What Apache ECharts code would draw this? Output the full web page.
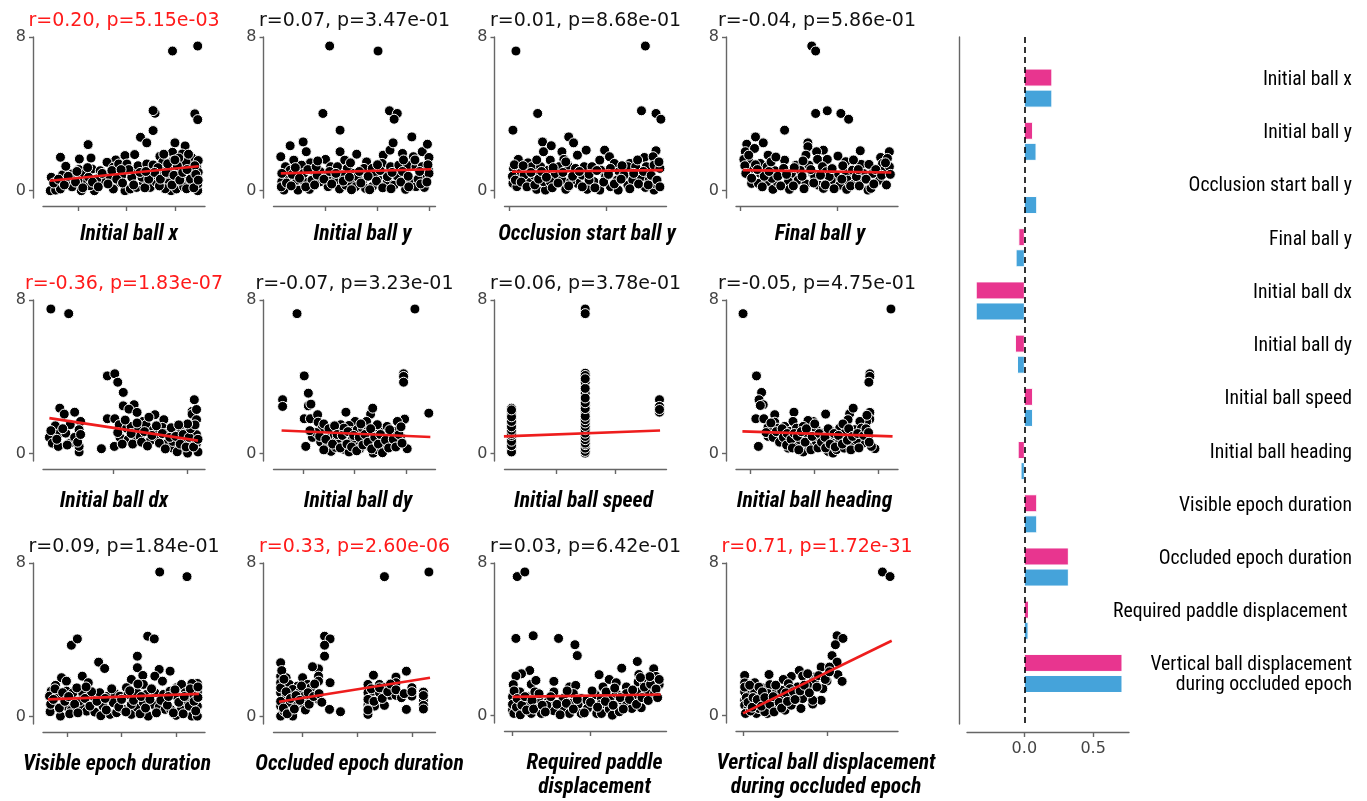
<!DOCTYPE html>
<html><head><meta charset="utf-8">
<script src="https://cdn.jsdelivr.net/npm/echarts@6/dist/echarts.min.js"></script>
<style>html,body{margin:0;padding:0;background:#fff}#c{width:1367px;height:801px}</style>
</head><body><div id="c"></div>
<script>
// ---------- DATA ----------
const panelLabels = ['Initial ball x','Initial ball y','Occlusion start ball y','Final ball y',
  'Initial ball dx','Initial ball dy','Initial ball speed','Initial ball heading',
  'Visible epoch duration','Occluded epoch duration','Required paddle\ndisplacement','Vertical ball displacement\nduring occluded epoch'];
const rValues = ['0.20','0.07','0.01','-0.04','-0.36','-0.07','0.06','-0.05','0.09','0.33','0.03','0.71'];
const pValues = ['5.15e-03','3.47e-01','8.68e-01','5.86e-01','1.83e-07','3.23e-01','3.78e-01','4.75e-01','1.84e-01','2.60e-06','6.42e-01','1.72e-31'];
const yTickValues = [0, 8];
const xRanges = [[2.8,36.2],[0,31.15],[-0.52,16.18],[-0.41,16.29],[-4.73,6.17],[-15.77,15.7],[0.11,2.88],[-24.4,26.2],[0.56,3.53],[0.47,3.42],[-1.03,19.74],[-0.83,18.45]];
const xTickValues = [[10,20,30],[10,20,30],[0,10],[0,10],[0,5],[-10,0,10],[1,2],[-20,0,20],[1,2,3],[1,2,3],[0,10],[0,10]];

const ptsInitialBallX = [[29.5,7.27],[34.7,7.53],[25.9,4.03],[25.5,4.17],[34.1,4.0],[34.7,3.7],[25.5,3.13],[22.9,2.78],[24.2,2.49],[12.1,2.4],[30,2.49],[32.1,2.33],[6.4,1.74],[10.3,1.65],[12.7,1.7],[17.8,1.6],[19.7,1.83],[21.7,1.88],[26.9,1.79],[29.5,2.0],[31.5,1.91],[33.4,1.74],
[4.5,0.7],[6.8,0.82],[7.5,1.27],[8.8,0.87],[10.2,1.1],[11.3,0.87],[12.9,1.13],[14.6,1.04],[16,1.48],[17.3,1.22],[18.4,1.39],[20.1,1.39],[21.4,1.04],[22.4,1.3],[24.2,1.39],[25.5,1.34],[28.3,1.22],[29.6,1.57],[31,1.22],[32.3,1.48],[34.5,1.22],[34.8,1.57],[34.8,0.96],
[4.3,0],[5.4,0.03],[6.4,0.09],[8.8,0.2],[10.7,0],[11.2,0.38],[13.4,0],[12.5,0.26],[15.3,0.52],[17.3,0.09],[18.7,0.43],[19.7,0],[20.8,0.09],[22.1,0.17],[23.5,0.43],[24.9,0.17],[26.2,0.43],[27.9,0.09],[29.2,0],[30.3,0.09],[31.3,0.43],[32.7,0.26],[34.7,0],[34.7,0.35],[33.8,0.7],[32.1,0.7],[28.6,0.7],[27.3,0.87],[25.2,0.78],[23.2,0.7],[21.1,0.7],[19.0,0.78],[16.6,0.78],[13.9,0.61],[12.2,0.7],[10,0.52],[7.7,0.52],[29,1.04],[30.3,0.87],[33,1.04],[34.1,1.3],[33.4,0.43],[27.5,1.5],[28.8,0.4],[30.8,1.7],[32.8,1.9],[31.8,0.2],[26.5,1.2],[28,0.1],
[5,0.4],[6,0.6],[7.2,0.3],[8,0.75],[9.5,0.45],[9.8,1.0],[11,0.15],[12,1.2],[13,0.45],[14.2,0.2],[15,0.9],[16.2,0.35],[17,1.05],[18,0.6],[19.2,0.4],[20.5,1.1],[21.5,0.3],[22.8,0.95],[23.8,0.15],[24.6,0.6],[25.8,0.95],[26.8,0.25],[27,0.6],[28.2,0.95],[28.5,1.4],[29.4,0.3],[29.8,0.8],[30.5,1.3],[31,0.55],[31.6,0.95],[32.4,0.1],[32.5,1.1],[33.2,0.6],[33.9,0.15],[34.3,0.85],[34.8,0.55],[27.7,1.9],[30,1.6],[24,1.0],[18.9,1.1]];
const ptsInitialBallY = [[10.8,7.53],[20.1,7.27],[9.5,4.02],[22.3,4.16],[23.8,4.02],[23.2,3.72],[12.8,3.15],[5.7,2.54],[3.2,2.34],[1.4,1.77],[6.3,2.03],[7.1,1.45],[10,1.63],[12.8,2.03],[13.7,1.59],[16,1.9],[17.9,1.5],[21.1,1.85],[22.4,2.11],[23,2.49],[24.8,1.94],[26.6,2.8],[26.9,1.77],[28.6,2.03],[29.6,2.42],[29.9,1.73],
[2.3,1.25],[3.9,1.59],[5.4,1.33],[7.4,1.07],[9,0.99],[11,1.25],[12.3,1.25],[14.2,1.16],[15.5,0.9],[17.4,1.16],[19,1.16],[20.9,1.42],[22.5,1.25],[24.1,1.33],[25.8,1.33],[27.4,1.25],[28.6,1.25],[29.8,1.07],
[2,0.03],[1.6,0.47],[2.9,0.73],[4.7,0.03],[4.5,0.55],[5.9,0.47],[6.9,0.07],[7.4,0.55],[9,0.47],[10.5,0.21],[11.9,0.55],[12.7,0.09],[13.9,0.29],[15,0.38],[15.8,0.21],[17.1,0.47],[17.7,0.12],[19,0.21],[20.3,0.55],[21.4,0.21],[21.9,0.55],[23.2,0.29],[23.8,0.76],[25.4,0.07],[26.4,0.47],[27.4,0.21],[29,0.17],[29,0.73],[29.9,0.9],[21.9,0.73],[19.3,0.81],[16.1,0.73],[13.2,0.81],[10.3,0.73],[8.4,0.81],[5.8,0.9],[3.2,1.07],[1.6,0.9],
[1.5,0.2],[2.5,0.4],[3.4,0.25],[3.6,0.85],[4.2,1.2],[5,0.65],[6.2,0.2],[6.6,1.1],[7.9,0.3],[8.2,1.25],[9.7,0.6],[10.8,1.0],[11.2,0.35],[12,0.9],[13.4,0.5],[14.6,0.7],[15,0.05],[16.5,1.0],[16.8,0.4],[18.2,0.75],[18.5,0.05],[19.8,0.5],[20.5,1.05],[21,0.15],[22.8,0.95],[22.6,0.1],[24.5,0.45],[24.8,1.0],[25.9,0.75],[26,0.2],[27.8,0.6],[28.1,1.0],[28.3,0.35],[29.5,0.45],[29.7,1.35],[27.2,1.6],[20,1.35],[14.8,1.45],[8.5,1.55],[25,1.6]];
const ptsOcclusionStartY = [[0.66,7.27],[14.0,7.53],[0.35,3.15],[2.9,4.02],[13.6,4.16],[15.1,4.02],[15.6,3.72],[6.1,2.8],[6.6,2.49],[3.4,2.54],[4.3,2.34],[3.5,2.03],[5.4,2.03],[7.9,2.11],[9.8,2.11],[7,1.85],[5.6,1.63],[10.3,1.77],[15.1,2.08],[13.9,1.73],[4.2,1.59],[0.9,1.63],[1.9,1.45],[9.3,1.59],[10.8,1.42],[12.4,1.42],[14.8,1.77],
[0.4,1.16],[1.1,0.9],[2.3,1.25],[3.2,1.25],[4,1.07],[5.1,1.25],[6,1.33],[6.8,1.16],[7.7,1.25],[8.5,1.25],[9.4,1.07],[10.4,1.16],[11.3,0.99],[12.2,1.25],[13,1.25],[14.1,1.25],[14.9,1.33],[15.5,1.16],
[0.35,0.38],[0.76,0.21],[2.8,0.07],[3.7,0.03],[3.5,0.47],[4.7,0.81],[5.4,0.55],[5.8,0.07],[7,0.38],[7.5,0.81],[8,0.07],[8.7,0.47],[9.3,0.03],[9.9,0.73],[10.4,0.21],[11.2,0.03],[12.2,0.29],[12.7,0.55],[13.6,0.73],[14,0.17],[14.9,0.03],[14.9,0.38],[2,0.55],[2.5,0.81],[4.2,0.47],[6.3,0.47],[8.2,0.55],[11.1,0.55],[11.8,0.81],[14.4,0.55],[1.5,0.81],
[0.3,0.75],[0.5,1.35],[0.6,0.55],[1.2,0.45],[1.4,1.3],[1.8,0.2],[2.2,0.95],[2.6,0.3],[3,0.6],[3.3,1.0],[3.8,0.7],[4.4,0.15],[4.5,1.2],[5,0.4],[5.5,0.95],[6.1,0.25],[6.5,0.75],[7.2,1.0],[7.5,0.2],[8.2,0.85],[8.8,0.15],[9,1.05],[9.7,0.45],[10.2,0.85],[10.8,0.35],[11.5,0.6],[11.6,1.3],[12.4,0.1],[12.8,0.9],[13.3,0.35],[13.8,1.0],[14.3,0.3],[14.6,0.8],[15.2,0.55],[15.5,0.2],[15.4,1.5],[13.2,1.6],[5.8,1.5],[2.8,1.6]];
const ptsFinalBallY = [[7.4,7.53],[7.8,7.27],[7.8,4.02],[9,4.16],[10.4,4.02],[11.2,3.72],[4.6,3.15],[1.6,2.8],[2.4,2.49],[0.7,2.42],[0.55,2.03],[1.5,2.2],[7,2.49],[7,2.29],[8.6,2.11],[7.9,2.03],[12.4,2.08],[15.4,2.03],[2.9,1.85],[6.8,1.85],[10.1,1.8],[14.5,1.73],[0.4,1.63],[1.1,1.42],[2.1,1.42],[4.6,1.59],[5.8,1.33],[7.1,1.33],[8,1.63],[9,1.63],[8.5,1.25],[10.9,1.51],[12.5,1.37],[13.3,1.37],[14.7,1.42],[15.2,1.68],
[1.4,1.16],[2.1,0.9],[2.8,1.25],[3.6,1.04],[4.5,1.16],[5.3,0.9],[6.2,1.07],[7.5,0.9],[8.9,0.99],[9.9,0.76],[11,0.9],[11.6,1.07],[12.7,0.9],[13.7,0.9],[14.9,1.07],[15.4,1.25],
[1.2,0.38],[1.9,0.38],[2.8,0.47],[3.4,0.07],[3.8,0.47],[5,0.47],[5.1,0.07],[6,0.55],[6.8,0.35],[7.7,0.73],[8.1,0.29],[8.6,0.12],[9.4,0.55],[10.3,0.29],[11,0.07],[11.1,0.55],[11.8,0.38],[12.6,0.55],[13.2,0.03],[13.5,0.12],[14.4,0.55],[12,0.73],[3.3,0.64],[9.2,0.73],
[0.5,1.3],[0.6,0.9],[0.9,1.85],[1.2,0.65],[1.6,1.35],[1.8,1.1],[2.3,0.2],[2.5,0.75],[3,1.0],[3.2,1.5],[3.9,0.75],[4.2,0.25],[4.8,0.85],[5.5,0.25],[5.6,1.2],[6.4,0.75],[6.6,0.1],[7.3,1.1],[7.6,0.4],[8.3,0.8],[8.8,0.3],[9.5,1.15],[9.7,0.1],[10.5,0.6],[10.6,1.3],[11.4,0.25],[12.2,1.1],[12.3,0.25],[13,0.6],[13.8,0.35],[14,1.1],[14.6,0.8],[15.1,0.3],[15.5,0.85],[15,1.45],[6.5,1.55],[3.7,1.75],[11.7,1.6]];
const ptsInitialBallDx = [[-4.2,7.53],[-3.0,7.29],[-0.4,4.05],[0.1,4.16],[0.3,3.72],[0.67,3.19],[0.67,2.49],[1.4,2.55],[1.05,2.32],[-3.6,2.37],[-3.3,2.06],[-2.6,2.16],[-2.2,1.68],[-0.4,1.82],[0.1,1.82],[1.6,2.15],[2,1.68],[2.8,2.03],[3.4,1.77],[5.45,2.81],[5.3,2.2],[5.3,2.06],[5.6,1.77],[4.3,1.33],
[-4.3,0.85],[-3.9,1.45],[-3.6,1.07],[-3.2,1.07],[-2.9,1.51],[-2.3,1.25],[0.4,1.51],[0.9,1.33],[1.2,1.42],[1.7,1.25],[2.2,1.51],[2.7,1.25],[3.3,1.37],[3.6,1.07],[4,1.16],[4.6,1.25],[4.9,1.07],[5.4,1.16],[5.6,0.99],
[-4.1,0.55],[-3.7,0.38],[-2.9,0.55],[-2.3,0.09],[-2.3,0.38],[-0.8,0.26],[0.07,0.38],[0.45,0.85],[1,0.73],[1.4,0.85],[1.8,0.9],[2.5,0.68],[3,0.81],[3.6,0.52],[4,0.29],[4.4,0.55],[4.7,0.21],[5,0.03],[5.3,0.64],[5.7,0.09],[5.6,0.55],[4.8,0.73],[4,0.64],
[-4.2,1.2],[-3.8,0.75],[-3.4,1.3],[-3.1,0.45],[-2.6,0.85],[-2.4,0.6],[-2.2,1.0],[0.3,1.1],[0.6,0.5],[0.8,1.75],[1.2,1.05],[1.3,0.5],[1.6,1.6],[1.9,0.6],[2.1,1.15],[2.3,0.4],[2.6,0.95],[2.9,1.45],[3.1,0.55],[3.3,1.05],[3.5,0.25],[3.8,0.85],[3.9,1.35],[4.2,0.9],[4.3,0.1],[4.5,0.5],[4.7,1.0],[4.9,0.35],[5.1,0.85],[5.2,1.3],[5.4,0.35],[5.5,1.5],[5.7,0.75],[5.6,2.3],[5.0,1.55],[4.4,1.5],[2.4,1.9]];
const ptsInitialBallDy = [[-11.2,7.29],[11.7,7.53],[-14,2.81],[-14,2.46],[-9.8,4.05],[-9,3.15],[-9,2.49],[-8.5,2.58],[-9.8,1.82],[-8.6,1.82],[-7.2,2.03],[-7.1,1.64],[9.5,4.16],[9.5,4.02],[9.5,3.72],[14.4,2.11],[9.7,1.8],[-1.7,2.16],[3.1,2.06],[3.5,2.37],[2.3,1.68],[0.1,1.68],[8.3,1.68],[-2.7,1.51],[-1.1,1.47],
[-8.2,0.85],[-6.3,1.33],[-4.6,1.16],[-4,0.9],[-3,1.16],[-2.1,1.33],[-0.8,1.16],[0.5,1.25],[1.5,1.33],[2.5,1.16],[3.7,1.07],[4.7,1.33],[5.7,1.16],[7,1.07],[7.9,1.16],[8.9,0.9],[6.3,1.42],[4.4,1.51],
[-9.5,0.38],[-6.6,0.61],[-5.3,0.42],[-4.6,0.12],[-3.7,0.33],[-2.6,0.61],[-1.9,0.21],[-1.1,0.09],[0.2,0.47],[1,0.26],[1.9,0.64],[2.8,0.38],[3.6,0.03],[4.4,0.21],[5,0.47],[5.7,0.26],[7,0.55],[10.2,0.26],[-3.4,0.73],[-0.5,0.73],[4.1,0.73],[8.3,0.64],
[-7.5,1.1],[-6.8,0.9],[-6,1.55],[-5.6,0.75],[-5,1.3],[-4.3,0.5],[-3.9,1.45],[-3.4,1.0],[-2.8,0.3],[-2.4,0.95],[-1.5,0.5],[-1.3,1.15],[-0.6,0.35],[-0.2,0.95],[0.4,0.15],[0.9,0.85],[1.2,1.55],[1.6,0.45],[2,1.0],[2.6,0.6],[3.1,1.3],[3.3,0.25],[3.9,0.85],[4.6,0.5],[5,1.0],[5.4,0.05],[6,0.7],[6.6,0.3],[6.8,1.25],[7.5,0.75],[8,0.35],[8.6,1.0],[9,1.4],[9.2,0.55],[-8.7,1.2],[-6,0.2]];
const ptsInitialBallSpeed = [[0.23,2.37],[0.23,2.2],[0.23,2.06],[0.23,1.77],[0.23,1.59],[0.23,1.47],[0.23,1.33],[0.23,1.13],[0.23,0.85],[0.23,0.73],[0.23,0.55],[0.23,0.29],[0.23,0.16],[0.23,0.09],
[0.23,0.42],[0.23,0.65],[0.23,0.95],[0.23,1.05],[0.23,1.22],[0.23,1.4],[0.23,1.68],[0.23,1.92],[0.23,2.28],
[1.49,7.53],[1.49,7.29],[1.49,4.19],[1.49,4.07],[1.49,3.72],[1.49,3.15],[1.49,2.51],[1.49,2.2],[1.49,2.06],[1.49,1.85],[1.49,1.68],[1.49,1.51],[1.49,1.33],[1.49,1.16],[1.49,0.99],[1.49,0.81],[1.49,0.64],[1.49,0.38],[1.49,0.21],[1.49,0.03],
[1.49,0.12],[1.49,0.29],[1.49,0.47],[1.49,0.55],[1.49,0.73],[1.49,0.9],[1.49,1.07],[1.49,1.25],[1.49,1.42],[1.49,1.6],[1.49,1.77],[1.49,1.95],[1.49,2.35],[1.49,2.65],[1.49,2.9],[1.49,3.4],[1.49,3.9],
[2.76,2.81],[2.76,2.46],[2.76,2.16],[2.76,2.3]];
const ptsInitialBallHeading = [[-22.2,7.29],[24,7.53],[-18,4.05],[-16.4,3.19],[-17.2,2.81],[-15.9,2.55],[-16.8,2.51],[-18.2,1.82],[-15.7,1.82],[-12.3,2.03],[-12.3,1.64],[-14.4,1.37],[-14.4,0.9],[-17.4,0.38],[-6.3,2.16],[3.6,2.06],[-0.3,1.68],[-1.9,1.73],[-6.6,1.68],[11.1,2.08],[12.2,2.37],[10.6,1.77],[17.4,4.16],[17.4,4.02],[17.1,3.72],[17.4,2.15],[17.4,1.8],[16.4,1.68],[14.3,1.68],[19,0.26],
[-11.3,1.33],[-9.2,1.42],[-7.6,1.16],[-5.5,1.33],[-3.4,1.42],[0.7,1.25],[2.8,1.07],[5.4,1.16],[8,1.33],[9.6,1.07],[12.7,1.25],[14.8,1.33],[16.9,0.9],[-10.2,0.99],[-1.9,0.99],[6.5,0.9],
[-9.2,0.55],[-8.1,0.29],[-6,0.47],[-3.4,0.09],[-1.4,0.33],[0.7,0.64],[2.8,0.33],[4.4,0.12],[5.9,0.03],[7,0.21],[9.4,0.29],[12.2,0.42],[15.3,0.55],[17.9,0.38],[-4.5,0.73],[1.8,0.78],[8,0.64],[13.2,0.73],
[-15,1.1],[-13.5,1.6],[-12.8,0.85],[-11.8,1.15],[-10.8,0.6],[-10,1.3],[-9.6,0.85],[-8.6,0.45],[-8.4,1.05],[-7.2,0.75],[-6.8,0.3],[-6.2,1.05],[-5.2,0.9],[-4.8,0.2],[-4,1.15],[-2.8,0.6],[-2.4,1.3],[-1,0.2],[-0.6,0.9],[0.2,1.55],[1.2,0.3],[1.6,1.05],[2.3,0.6],[3.4,0.85],[3.6,0.3],[4.4,1.3],[5,0.5],[6.2,1.05],[6.6,0.35],[7.6,0.95],[8.8,0.5],[9,1.55],[10.4,0.7],[10.8,1.3],[11.5,0.2],[12,0.9],[13.6,1.05],[14,0.3],[15.5,0.95],[16.2,1.3],[17,1.1],[17.2,0.6],[16.5,2.0]];
const ptsVisibleDuration = [[2.7,7.53],[3.2,7.29],[1.08,3.72],[1.19,4.05],[2.48,4.19],[2.6,4.05],[1.58,2.84],[1.69,2.51],[2.29,3.15],[2.29,2.55],[2.89,2.37],[2.69,2.46],[1.28,2.11],[2.39,2.15],[2.61,2.11],[2.18,1.94],[1.39,1.77],[0.9,2.03],[0.99,1.85],[0.79,1.63],[0.71,1.33],[2.09,1.51],[2.4,1.68],[3.01,1.51],[3.1,1.68],[3.39,1.73],[3.29,1.73],
[0.68,1.07],[0.83,1.16],[0.99,1.33],[1.11,1.25],[1.29,1.21],[1.48,1.07],[1.6,1.25],[1.75,1.07],[1.88,1.21],[1.97,1.07],[2.12,1.16],[2.28,1.25],[2.46,1.16],[2.61,1.25],[2.77,1.16],[2.89,1.33],[3.01,1.07],[3.17,1.25],[3.32,1.07],[3.39,1.28],
[0.69,0.26],[0.88,0.03],[0.99,0.55],[1.08,0.35],[1.26,0.47],[1.36,0.29],[1.51,0.24],[1.66,0.55],[1.79,0.12],[1.91,0.21],[2.03,0.38],[2.18,0.12],[2.29,0.47],[2.49,0.03],[2.58,0.64],[2.69,0.5],[2.8,0.38],[2.9,0.38],[3,0.07],[3.1,0.42],[3.2,0.76],[3.29,0.03],[3.39,0.55],[3.39,0.03],[2.18,0.64],[1.85,0.73],[1.23,0.81],[2.4,0.73],
[0.7,0.65],[0.75,0.9],[0.78,1.45],[0.86,0.45],[0.92,1.25],[0.96,0.8],[1.03,1.05],[1.05,0.15],[1.14,0.65],[1.18,1.5],[1.2,0.2],[1.33,0.95],[1.42,0.55],[1.45,1.3],[1.55,0.8],[1.62,0.05],[1.7,0.95],[1.72,0.35],[1.82,1.45],[1.95,0.5],[2.0,0.9],[2.08,0.25],[2.15,1.35],[2.22,0.85],[2.34,0.15],[2.36,1.05],[2.44,0.45],[2.52,0.9],[2.55,1.45],[2.64,0.2],[2.72,0.85],[2.75,1.85],[2.84,0.6],[2.86,1.05],[2.95,0.2],[2.98,1.4],[3.05,0.75],[3.13,0.15],[3.15,1.05],[3.24,0.55],[3.26,1.45],[3.33,0.8],[3.36,0.3],[3.4,1.0],[3.4,1.55],[2.3,1.7],[1.35,1.55]];
const ptsOccludedDuration = [[2.49,7.29],[3.3,7.53],[1.4,4.19],[1.5,4.05],[1.4,3.72],[1.4,3.15],[0.6,2.81],[1.29,2.49],[1.18,2.6],[0.6,2.11],[0.7,2.03],[1,2.03],[1.29,2.11],[1.5,1.77],[2.29,2.16],[2.7,2.06],[2.89,2.37],[0.6,1.77],[0.76,1.68],[0.91,1.59],[1.09,1.68],[1.15,1.51],[1.29,1.85],[2.19,1.68],[2.4,1.68],[2.7,1.77],[2.99,1.51],
[0.6,1.25],[0.7,1.07],[0.82,1.42],[0.94,1.25],[1.03,1.07],[1.15,0.9],[1.29,0.9],[2.19,1.25],[2.28,1.33],[2.4,1.25],[2.49,1.51],[2.59,1.11],[2.7,1.11],[2.8,0.99],[2.99,1.07],[3.2,1.28],[3.2,0.87],
[0.6,0.55],[0.6,0.03],[0.66,0.29],[0.76,0.73],[0.8,0.24],[0.82,0.03],[0.91,0.64],[1.49,0.38],[1.69,0.26],[2.19,0.61],[2.19,0.12],[2.21,0.47],[2.31,0.55],[2.49,0.59],[2.89,0.38],[3.2,0.59],[1.03,0.64],
[0.6,0.8],[0.6,1.5],[0.65,0.45],[0.7,1.3],[0.72,0.15],[0.78,0.95],[0.85,0.4],[0.88,1.1],[0.95,0.85],[0.98,1.6],[1.05,0.35],[1.1,1.25],[1.12,0.65],[1.2,1.05],[1.22,1.7],[1.3,1.2],[1.35,0.75],[0.62,2.4],[0.66,1.95],[2.19,0.35],[2.19,0.9],[2.25,1.45],[2.3,0.8],[2.4,1.5],[2.45,0.95],[2.55,1.3],[2.6,1.7],[2.7,1.4],[2.85,1.2],[2.99,1.3],[3.2,1.1],[3.2,0.4]];
const ptsPaddleDisplacement = [[0.6,7.29],[1.58,7.53],[0.43,4.05],[2.65,4.19],[5.9,4.05],[8,3.72],[8.3,3.15],[2.2,2.37],[1.15,2.2],[0.43,2.08],[0.09,1.63],[2.4,1.65],[3,1.85],[5.3,1.8],[7.3,1.51],[8.1,1.59],[11.1,2.15],[12.4,1.9],[14,2.49],[16,2.84],[16.2,2.16],[16.1,1.77],[18.1,2.46],[18.4,2.06],[18.8,1.63],[17.9,1.51],[16.9,1.77],[14.6,1.51],[13.3,1.73],[11.6,1.51],
[0,0.99],[0.94,1.25],[1.28,0.81],[2,0.99],[2.86,1.25],[3.3,0.9],[4.57,0.73],[5.3,1.25],[6.5,0.9],[7.8,1.16],[8.8,0.9],[9.5,0.81],[10.6,1.11],[11.4,0.9],[12.5,0.9],[13.3,1.16],[14,0.81],[14.6,1.16],[15.5,1.07],[16.3,1.25],[17.2,1.25],[18.2,1.16],
[0,0.29],[0.17,0.12],[0.94,0.24],[2,0.55],[2.4,0.12],[3.1,0.35],[3.7,0.12],[5.3,0.26],[6.5,0.38],[7.3,0.12],[8.4,0.59],[8.8,0.12],[9.6,0.38],[10.8,0.12],[11.3,0.59],[11.4,0.12],[12.4,0.35],[12.8,0.03],[13.7,0.21],[14.6,0.55],[15.3,0.38],[16.5,0.42],[4.4,0.55],[7.4,0.64],
[0,0.6],[0.2,1.3],[0.5,0.45],[0.6,0.9],[1,0.05],[1.2,0.55],[1.6,1.0],[1.8,0.3],[2.5,0.8],[2.7,0.35],[3.4,1.15],[3.8,0.55],[4.2,0.2],[4.9,1.0],[5.7,0.6],[6.1,0.05],[6.9,0.65],[7,1.3],[7.8,0.35],[8.3,0.85],[9.2,0.15],[10,0.7],[10.2,1.3],[10.9,0.45],[11.9,0.75],[12,1.25],[12.9,0.55],[13.1,1.45],[13.8,0.95],[14.2,0.35],[15,0.85],[15.4,1.35],[15.9,0.6],[16.6,0.95],[16.9,1.5],[17.4,0.8],[17.7,1.65],[18.4,1.4],[18.6,0.95],[18.8,1.9],[17.6,2.05],[16.4,2.0]];
const ptsVerticalDisplacement = [[16.6,7.53],[17.5,7.29],[11.2,4.19],[11.9,4.05],[11,3.72],[10.6,3.15],[11.2,2.81],[9.3,2.55],[10.3,2.55],[11.3,2.15],[11.8,1.8],[10,1.82],[6.7,2.37],[7.1,2.08],[5.75,2.06],[4.8,1.9],[3.1,2.16],[0.2,2.11],[1.4,1.73],[0.2,1.72],[2.4,1.45],[3.2,1.63],[5.4,1.68],[8.3,2.03],[8.5,1.77],[9.5,1.42],[7.7,1.59],[6.5,1.51],[7.5,1.16],[9.3,0.81],[8.3,0.61],
[0.2,1.25],[0.8,1.07],[1.4,1.25],[2.2,1.07],[3,1.16],[4,1.25],[4.6,0.99],[5.6,1.07],[6.5,1.07],[7.1,0.9],[5.6,1.42],[4.6,1.33],
[0.2,0.81],[0.2,0.55],[0.6,0.33],[0.3,0.12],[1.6,0.12],[1.4,0.64],[1.9,0.38],[2.4,0.73],[2.9,0.12],[3.4,0.38],[4,0.42],[5,0.29],[5.75,0.55],[6.9,0.38],[8.3,0.81],[3.4,0.81],[2.6,0.21],
[0.2,1.5],[0.4,0.95],[0.6,0.7],[0.8,1.6],[0.9,0.25],[1.1,0.45],[1.2,0.95],[1.7,0.85],[1.9,1.5],[2.2,0.5],[2.3,1.25],[2.6,0.95],[3.2,0.6],[3.6,1.0],[3.7,0.2],[3.9,1.6],[4.3,0.7],[4.6,0.4],[5.1,1.2],[5.3,0.75],[6,1.25],[6.2,0.85],[6.8,1.3],[7.3,1.6],[7.9,1.2],[8.8,1.5],[9,2.1],[9.8,1.9],[10.3,2.3],[7.7,2.2]];

const fitInitialBallX = [[4.2,0.52],[34.9,1.27]];
const fitInitialBallY = [[1.4,0.9],[30.3,1.12]];
const fitOcclusionStartY = [[0.24,0.99],[15.8,1.07]];
const fitFinalBallY = [[0.3,1.07],[15.6,0.95]];
const fitInitialBallDx = [[-4.3,1.85],[5.7,0.68]];
const fitInitialBallDy = [[-14.2,1.21],[14.7,0.87]];
const fitInitialBallSpeed = [[0.1,0.9],[2.77,1.21]];
const fitInitialBallHeading = [[-22.4,1.16],[24.5,0.9]];
const fitVisibleDuration = [[0.65,0.9],[3.42,1.19]];
const fitOccludedDuration = [[0.57,0.78],[3.32,2.03]];
const fitPaddleDisplacement = [[0,0.99],[19,1.11]];
const fitVerticalDisplacement = [[0,0.12],[17.7,3.93]];

const barCategories = ['Initial ball x','Initial ball y','Occlusion start ball y','Final ball y','Initial ball dx','Initial ball dy','Initial ball speed','Initial ball heading','Visible epoch duration','Occluded epoch duration','Required paddle displacement ','Vertical ball displacement\nduring occluded epoch'];
const barValuesPink = [0.20, 0.06, 0.005, -0.04, -0.35, -0.065, 0.06, -0.045, 0.09, 0.32, 0.03, 0.71];
const barValuesBlue = [0.20, 0.085, 0.09, -0.06, -0.35, -0.05, 0.06, -0.024, 0.09, 0.32, 0.027, 0.71];
const barTickValues = [0, 0.5];

// ---------- LAYOUT / STYLE ----------
const allPts = [ptsInitialBallX,ptsInitialBallY,ptsOcclusionStartY,ptsFinalBallY,ptsInitialBallDx,ptsInitialBallDy,ptsInitialBallSpeed,ptsInitialBallHeading,ptsVisibleDuration,ptsOccludedDuration,ptsPaddleDisplacement,ptsVerticalDisplacement];
const allFits = [fitInitialBallX,fitInitialBallY,fitOcclusionStartY,fitFinalBallY,fitInitialBallDx,fitInitialBallDy,fitInitialBallSpeed,fitInitialBallHeading,fitVisibleDuration,fitOccludedDuration,fitPaddleDisplacement,fitVerticalDisplacement];
const colLeft = [43, 273.5, 504.5, 736];
const rowTop = [37, 300, 563];
const nameGapRow = [17, 21, 21];
const nameShift = [5, 8, 1.5, 3, -10, 3.5, -2, -2.5, -7, 5, 9, 9];
const AX = '#666';
const NARROW = "'Roboto Condensed','Noto Sans Condensed','Open Sans Condensed','Liberation Sans Narrow','DejaVu Sans Condensed',sans-serif";
const RED = '#ff1a1a';

// size the condensed fonts so that reference text widths are matched
function fitFontSize(text, targetW, style, weight) {
  const ctx = document.createElement('canvas').getContext('2d');
  ctx.font = style + ' ' + weight + ' 100px ' + NARROW;
  return Math.round(100 * targetW / ctx.measureText(text).width * 10) / 10;
}
const nameFontSize = fitFontSize('Visible epoch duration', 188, 'italic', 'bold');
const barFontSize = fitFontSize('Occluded epoch duration', 193, 'normal', 'normal');

const grid = [], xAxis = [], yAxis = [], series = [];
panelLabels.forEach((lab, i) => {
  const r = Math.floor(i / 4), c = i % 4;
  const s = nameShift[i];
  grid.push({left: colLeft[c], top: rowTop[r], width: 162, height: 161, containLabel: false});
  xAxis.push({
    gridIndex: i, type: 'value', position: 'bottom', min: xRanges[i][0], max: xRanges[i][1], offset: 8,
    axisLine: {show: true, onZero: false, lineStyle: {color: AX, width: 1.4}},
    axisTick: {show: true, customValues: xTickValues[i], length: 5, lineStyle: {color: AX, width: 1.4}},
    axisLabel: {show: false}, splitLine: {show: false},
    name: lab, nameLocation: 'middle', nameGap: nameGapRow[r],
    nameTextStyle: {fontFamily: NARROW, fontWeight: 'bold', fontStyle: 'italic', fontSize: nameFontSize, color: '#000',
      verticalAlign: 'top', lineHeight: 24, padding: [0, s < 0 ? -2 * s : 0, 0, s > 0 ? 2 * s : 0]}
  });
  yAxis.push({
    gridIndex: i, type: 'value', min: -0.38, max: 8, offset: 10,
    axisLine: {show: true, onZero: false, lineStyle: {color: AX, width: 1.4}},
    axisTick: {show: true, customValues: yTickValues, length: 4, lineStyle: {color: AX, width: 1.4}},
    axisLabel: {show: true, customValues: yTickValues, margin: 7, fontSize: 16, color: '#444', fontFamily: 'DejaVu Sans'},
    splitLine: {show: false}
  });
  series.push({type: 'scatter', xAxisIndex: i, yAxisIndex: i, data: allPts[i], symbolSize: 10,
    itemStyle: {color: '#000', borderColor: '#fff', borderWidth: 1, opacity: 1}, z: 2, silent: true});
  series.push({type: 'line', xAxisIndex: i, yAxisIndex: i, data: allFits[i], symbol: 'none', showSymbol: false,
    lineStyle: {color: '#ee1d1d', width: 2.6}, z: 3, silent: true});
});
// title axes (top)
panelLabels.forEach((lab, i) => {
  const sig = parseFloat(pValues[i]) < 0.05;
  xAxis.push({
    gridIndex: i, type: 'value', position: 'top', min: 0, max: 1,
    axisLine: {show: false}, axisTick: {show: false}, axisLabel: {show: false}, splitLine: {show: false},
    name: 'r=' + rValues[i] + ', p=' + pValues[i], nameLocation: 'middle', nameGap: 16,
    nameTextStyle: {fontFamily: 'DejaVu Sans', fontSize: 19, color: sig ? RED : '#111', verticalAlign: 'middle'}
  });
});
// bar chart
const BG = 12;
grid.push({left: 967, top: 37, width: 162, height: 687});
const barX = xAxis.length;
xAxis.push({
  gridIndex: BG, type: 'value', min: -0.417, max: 0.761, offset: 8,
  axisLine: {show: true, onZero: false, lineStyle: {color: AX, width: 1.4}},
  axisTick: {show: true, customValues: barTickValues, length: 5, lineStyle: {color: AX, width: 1.4}},
  axisLabel: {show: true, customValues: barTickValues, margin: 9, fontSize: 16, color: '#444', fontFamily: 'DejaVu Sans',
    formatter: v => v.toFixed(1)},
  splitLine: {show: false}
});
const barY = yAxis.length;
yAxis.push({
  gridIndex: BG, type: 'value', min: -0.96, max: 11.95, inverse: true, offset: 8,
  axisLine: {show: true, onZero: false, lineStyle: {color: AX, width: 1.4}},
  axisTick: {show: false}, axisLabel: {show: false}, splitLine: {show: false}
});
yAxis.push({
  gridIndex: BG, type: 'value', min: -0.96, max: 11.95, inverse: true, position: 'right',
  axisLine: {show: false, onZero: false}, axisTick: {show: false}, splitLine: {show: false},
  axisLabel: {show: true, customValues: barCategories.map((_, k) => k), align: 'right', margin: 223,
    formatter: v => {
      const n = barCategories[v];
      if (n.indexOf('\n') >= 0) {
        const parts = n.split('\n');
        return '{b1|' + parts[0] + '}\n{b|' + parts[1] + '}';
      }
      return '{a|' + n + '}';
    },
    rich: {
      a: {fontFamily: NARROW, fontSize: barFontSize, color: '#000', padding: [0, 0, 16, 0]},
      b1: {fontFamily: NARROW, fontSize: barFontSize, color: '#000', lineHeight: 24, padding: [8, 0, 0, 0]},
      b: {fontFamily: NARROW, fontSize: barFontSize, color: '#000', lineHeight: 24}
    }
  }
});
function barRenderer(side, color) {
  return function (params, api) {
    const v = api.value(0), k = api.value(1);
    const p0 = api.coord([0, k]), p1 = api.coord([v, k]);
    const band = api.size([0, 1])[1];
    const h = band * 0.32;
    const yc = p0[1] + side * band * 0.198;
    return {type: 'rect', shape: {x: Math.min(p0[0], p1[0]), y: yc - h / 2, width: Math.abs(p1[0] - p0[0]), height: h},
      style: {fill: color, stroke: '#fff', lineWidth: 1}};
  };
}
series.push({type: 'custom', xAxisIndex: barX, yAxisIndex: barY, data: barValuesPink.map((v, k) => [v, k]),
  encode: {x: 0, y: 1}, renderItem: barRenderer(-1, '#e8358f'), silent: true, z: 2,
  markLine: {silent: true, symbol: 'none', label: {show: false}, animation: false,
    lineStyle: {color: '#000', type: [6, 4], width: 1.6}, data: [{xAxis: 0}]}});
series.push({type: 'custom', xAxisIndex: barX, yAxisIndex: barY, data: barValuesBlue.map((v, k) => [v, k]),
  encode: {x: 0, y: 1}, renderItem: barRenderer(1, '#45a3da'), silent: true, z: 2});

const chart = echarts.init(document.getElementById('c'), null, {renderer: 'canvas'});
chart.setOption({animation: false, backgroundColor: '#fff', grid, xAxis, yAxis, series});
</script></body></html>
